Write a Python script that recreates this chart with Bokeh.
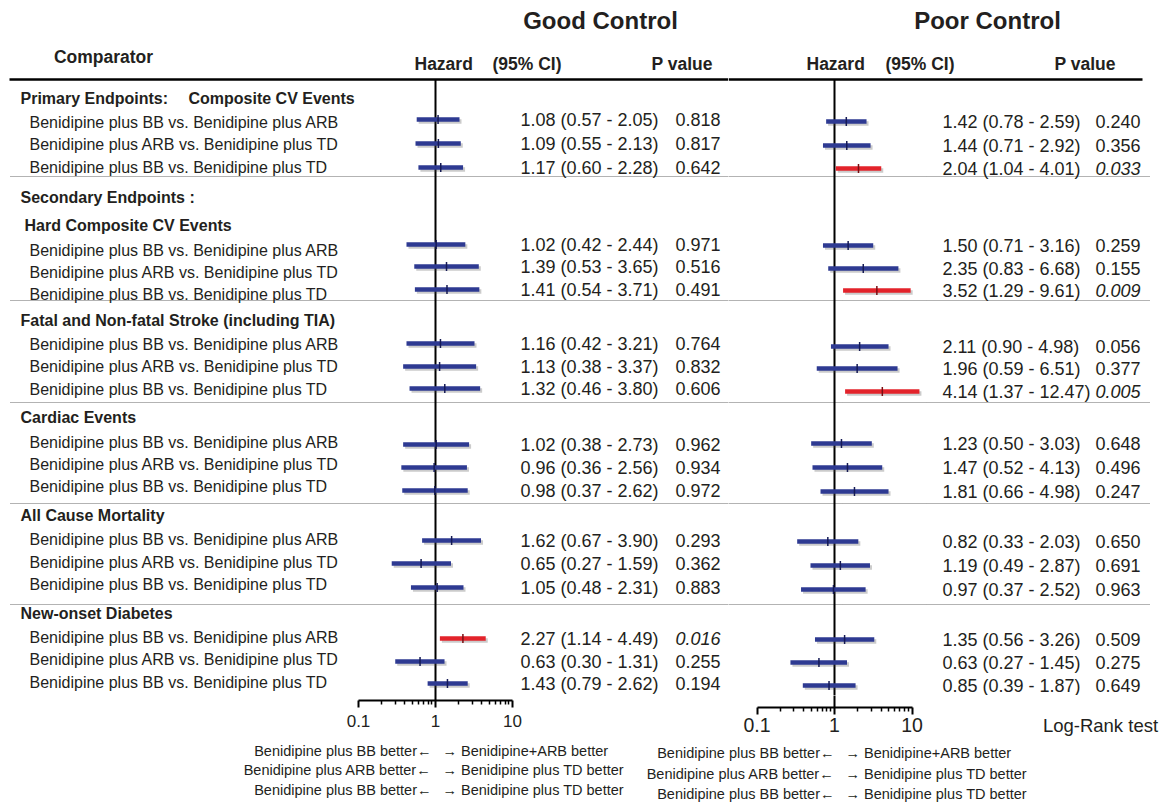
from bokeh.plotting import figure
from bokeh.models import Range1d, LogScale, LogAxis, LinearAxis, FixedTicker
from bokeh.layouts import column, row
from bokeh.embed import file_html
from bokeh.resources import INLINE
from bokeh.core.properties import value

# ---------------- data ----------------
section_titles = ["Primary Endpoints:", "Secondary Endpoints :", "Hard Composite CV Events",
                  "Fatal and Non-fatal Stroke (including TIA)", "Cardiac Events",
                  "All Cause Mortality", "New-onset Diabetes"]
primary_sub = "Composite CV Events"
comparators = ["Benidipine plus BB vs. Benidipine plus ARB",
               "Benidipine plus ARB vs. Benidipine plus TD",
               "Benidipine plus BB vs. Benidipine plus TD"]
n_groups = 6

good_hr = [1.08, 1.09, 1.17, 1.02, 1.39, 1.41, 1.16, 1.13, 1.32,
           1.02, 0.96, 0.98, 1.62, 0.65, 1.05, 2.27, 0.63, 1.43]
good_lo = [0.57, 0.55, 0.60, 0.42, 0.53, 0.54, 0.42, 0.38, 0.46,
           0.38, 0.36, 0.37, 0.67, 0.27, 0.48, 1.14, 0.30, 0.79]
good_hi = [2.05, 2.13, 2.28, 2.44, 3.65, 3.71, 3.21, 3.37, 3.80,
           2.73, 2.56, 2.62, 3.90, 1.59, 2.31, 4.49, 1.31, 2.62]
good_p = ["0.818", "0.817", "0.642", "0.971", "0.516", "0.491", "0.764", "0.832", "0.606",
          "0.962", "0.934", "0.972", "0.293", "0.362", "0.883", "0.016", "0.255", "0.194"]

poor_hr = [1.42, 1.44, 2.04, 1.50, 2.35, 3.52, 2.11, 1.96, 4.14,
           1.23, 1.47, 1.81, 0.82, 1.19, 0.97, 1.35, 0.63, 0.85]
poor_lo = [0.78, 0.71, 1.04, 0.71, 0.83, 1.29, 0.90, 0.59, 1.37,
           0.50, 0.52, 0.66, 0.33, 0.49, 0.37, 0.56, 0.27, 0.39]
poor_hi = [2.59, 2.92, 4.01, 3.16, 6.68, 9.61, 4.98, 6.51, 12.47,
           3.03, 4.13, 4.98, 2.03, 2.87, 2.52, 3.26, 1.45, 1.87]
poor_p = ["0.240", "0.356", "0.033", "0.259", "0.155", "0.009", "0.056", "0.377", "0.005",
          "0.648", "0.496", "0.247", "0.650", "0.691", "0.963", "0.509", "0.275", "0.649"]

tick_values = [0.1, 1, 10]
tick_labels = ["0.1", "1", "10"]
foot_left = ["Benidipine plus BB better\u2190", "Benidipine plus ARB better\u2190",
             "Benidipine plus BB better\u2190"]
foot_right = ["\u2192 Benidipine+ARB better", "\u2192 Benidipine plus TD better",
              "\u2192 Benidipine plus TD better"]
test_note = "Log-Rank test"

# ---------------- layout (page pixel coordinates) ----------------
section_y = [98, 197, 225, 320, 417, 515, 613]
section_x = [20, 20, 24, 20, 20, 20, 20]
label_y = [122, 144, 167, 250, 272, 294, 344, 366, 389,
           442, 464, 486, 539, 562, 584, 637, 659, 682]
good_y = [119, 143, 167, 244, 266, 289, 343, 366, 388,
          444, 467, 490, 540, 563, 587, 638, 661, 683]
poor_y = [121, 145, 168, 245, 268, 290, 346, 368, 391,
          443, 467, 491, 541, 565, 589, 639, 662, 685]
dotted_y = [176, 300, 402, 503, 604]

TOP_H = 743          # height of the top row of figures
SPLIT_X = 728        # left / right panel split
RA_SPLIT = 990       # right axis / "Log-Rank test" split
R_TOP_BOT = 695      # bottom of the right upper figure
R_AXIS_Y = 707       # right axis line

FONT = value("Liberation Sans")
TXT = "#231F20"
BLUE, BLUE_D = "#2E3A92", "#151A55"
RED, RED_D = "#E3232B", "#7A0E12"


def base_fig(width, height, x0, x1, ytop, ybot, bb, center_px=None, decade_px=None):
    p = figure(width=width, height=height, x_range=Range1d(x0, x1), y_range=Range1d(ybot, ytop),
               output_backend="svg", toolbar_location=None,
               x_axis_location=None, y_axis_location=None,
               min_border_left=0, min_border_right=0, min_border_top=0, min_border_bottom=bb,
               outline_line_color=None, background_fill_color="white", border_fill_color="white")
    p.xgrid.visible = False
    p.ygrid.visible = False
    if center_px is not None:
        lo = 10 ** ((x0 - center_px) / decade_px)
        hi = 10 ** ((x1 - center_px) / decade_px)
        p.extra_x_ranges = {"log": Range1d(lo, hi)}
        p.extra_x_scales = {"log": LogScale()}
    return p


def txt(p, xs, ys, texts, size, align="left", style="normal"):
    p.text(x=xs, y=ys, text=texts, text_font=FONT, text_font_size=size,
           text_font_style=style, text_align=align, text_baseline="middle", text_color=TXT)


def style_axis(ax, label_size, standoff):
    ax.axis_line_width = 2
    ax.axis_line_color = "black"
    ax.major_tick_line_width = 2
    ax.major_tick_line_color = "black"
    ax.minor_tick_line_width = 1.5
    ax.minor_tick_line_color = "black"
    ax.major_tick_in = 0
    ax.major_tick_out = 7
    ax.minor_tick_in = 0
    ax.minor_tick_out = 4
    ax.major_label_text_font = "Liberation Sans"
    ax.major_label_text_font_size = label_size
    ax.major_label_text_color = TXT
    ax.major_label_standoff = standoff


def add_axis(p, label_size, standoff):
    ax = LogAxis(x_range_name="log", bounds=(0.1, 10),
                 ticker=FixedTicker(ticks=tick_values,
                                    minor_ticks=[0.2, 0.3, 0.4, 0.5, 0.6, 0.7, 0.8, 0.9,
                                                 2, 3, 4, 5, 6, 7, 8, 9]))
    ax.major_label_overrides = dict(zip(tick_values, tick_labels))
    style_axis(ax, label_size, standoff)
    p.add_layout(ax, "below")


def forest(p, hr, lo, hi, pvals, ys, decade_px):
    sig = [float(v) < 0.05 for v in pvals]
    col = [RED if s else BLUE for s in sig]
    dark = [RED_D if s else BLUE_D for s in sig]
    k = 10 ** (2.0 / decade_px)
    p.segment(x0=[v * k for v in lo], x1=[v * k for v in hi],
              y0=[y + 2 for y in ys], y1=[y + 2 for y in ys],
              line_width=4.5, line_color="#444444", line_alpha=0.28, x_range_name="log")
    p.segment(x0=lo, x1=hi, y0=ys, y1=ys, line_width=4.5, line_color=col, x_range_name="log")
    p.segment(x0=hr, x1=hr, y0=[y - 4.5 for y in ys], y1=[y + 4.5 for y in ys],
              line_width=1.5, line_color=dark, x_range_name="log")


def values_text(p, hr, lo, hi, pvals, ys, x_ci, x_p):
    ci = ["%.2f (%.2f - %.2f)" % (a, b, c) for a, b, c in zip(hr, lo, hi)]
    txt(p, [x_ci] * len(ci), ys, ci, "18px")
    reg = [(y, v) for y, v in zip(ys, pvals) if float(v) >= 0.05]
    ita = [(y, v) for y, v in zip(ys, pvals) if float(v) < 0.05]
    txt(p, [x_p] * len(reg), [r[0] for r in reg], [r[1] for r in reg], "18px")
    txt(p, [x_p] * len(ita), [r[0] for r in ita], [r[1] for r in ita], "18px", style="italic")


# ---------------- left panel (Good Control) ----------------
L_C, L_D = 435, 77.0
pL = base_fig(SPLIT_X, TOP_H, 0, SPLIT_X, 0, 700, TOP_H - 700, L_C, L_D)
pL.segment(x0=[9], x1=[SPLIT_X], y0=[79], y1=[79], line_width=2.5, line_color="black")
pL.segment(x0=[10] * len(dotted_y), x1=[SPLIT_X] * len(dotted_y), y0=dotted_y, y1=dotted_y,
           line_width=1, line_color="#666666", line_dash="1 1")
pL.segment(x0=[1], x1=[1], y0=[79], y1=[700], line_width=2, line_color="black", x_range_name="log")
txt(pL, [600], [20], ["Good Control"], "24px", align="center", style="bold")
txt(pL, [103], [56], ["Comparator"], "17.5px", align="center", style="bold")
txt(pL, [414, 492, 651], [63, 63, 63], ["Hazard", "(95% CI)", "P value"], "17.5px", style="bold")
txt(pL, section_x, section_y, section_titles, "16px", style="bold")
txt(pL, [188], [98], [primary_sub], "16px", style="bold")
labels = [c for g in range(n_groups) for c in comparators]
txt(pL, [29] * len(labels), label_y, labels, "16px")
forest(pL, good_hr, good_lo, good_hi, good_p, good_y, L_D)
values_text(pL, good_hr, good_lo, good_hi, good_p, good_y, 520, 675)
add_axis(pL, "17px", 7)

# ---------------- right panel (Poor Control) ----------------
R_C, R_D = 834, 77.5
pR = base_fig(1168 - SPLIT_X, R_TOP_BOT, SPLIT_X, 1168, 0, R_TOP_BOT, 0, R_C, R_D)
pR.segment(x0=[SPLIT_X], x1=[1142], y0=[79], y1=[79], line_width=2.5, line_color="black")
pR.segment(x0=[SPLIT_X] * len(dotted_y), x1=[1150] * len(dotted_y), y0=dotted_y, y1=dotted_y,
           line_width=1, line_color="#666666", line_dash="1 1")
pR.segment(x0=[1], x1=[1], y0=[79], y1=[R_TOP_BOT + 5], line_width=2, line_color="black",
           x_range_name="log")
txt(pR, [987], [20], ["Poor Control"], "24px", align="center", style="bold")
txt(pR, [806, 885, 1054], [63, 63, 63], ["Hazard", "(95% CI)", "P value"], "17.5px", style="bold")
forest(pR, poor_hr, poor_lo, poor_hi, poor_p, poor_y, R_D)
values_text(pR, poor_hr, poor_lo, poor_hi, poor_p, poor_y, 942, 1095)

# right axis strip
RA_H = TOP_H - R_TOP_BOT
RA_BB = RA_H - (R_AXIS_Y - R_TOP_BOT)
pRA = base_fig(RA_SPLIT - SPLIT_X, RA_H, SPLIT_X, RA_SPLIT, R_TOP_BOT, R_AXIS_Y, RA_BB, R_C, R_D)
pRA.segment(x0=[1], x1=[1], y0=[R_TOP_BOT - 5], y1=[R_AXIS_Y + 3], line_width=2,
            line_color="black", x_range_name="log")
add_axis(pRA, "19.5px", 3)

# "Log-Rank test" strip: a tick label of an axis at the same level as the right axis
pLR = base_fig(1168 - RA_SPLIT, RA_H, RA_SPLIT, 1168, R_TOP_BOT, R_AXIS_Y, RA_BB)
note_ax = LinearAxis(ticker=FixedTicker(ticks=[1100], minor_ticks=[]))
note_ax.major_label_overrides = {1100: test_note}
style_axis(note_ax, "18.5px", 0)
note_ax.axis_line_color = None
note_ax.major_tick_line_color = None
note_ax.minor_tick_line_color = None
pLR.add_layout(note_ax, "below")

# ---------------- footnotes ----------------
pF = base_fig(1168, 803 - TOP_H, 0, 1168, TOP_H, 803, 0)
fl_y = [750, 769, 789]
fr_y = [752, 773, 793]
txt(pF, [431] * 3, fl_y, foot_left, "14.5px", align="right")
txt(pF, [442] * 3, fl_y, foot_right, "14.5px")
txt(pF, [834] * 3, fr_y, foot_left, "14.5px", align="right")
txt(pF, [845] * 3, fr_y, foot_right, "14.5px")

layout = column(row(pL, column(pR, row(pRA, pLR))), pF)
open("out.html", "w").write(file_html(layout, INLINE))
